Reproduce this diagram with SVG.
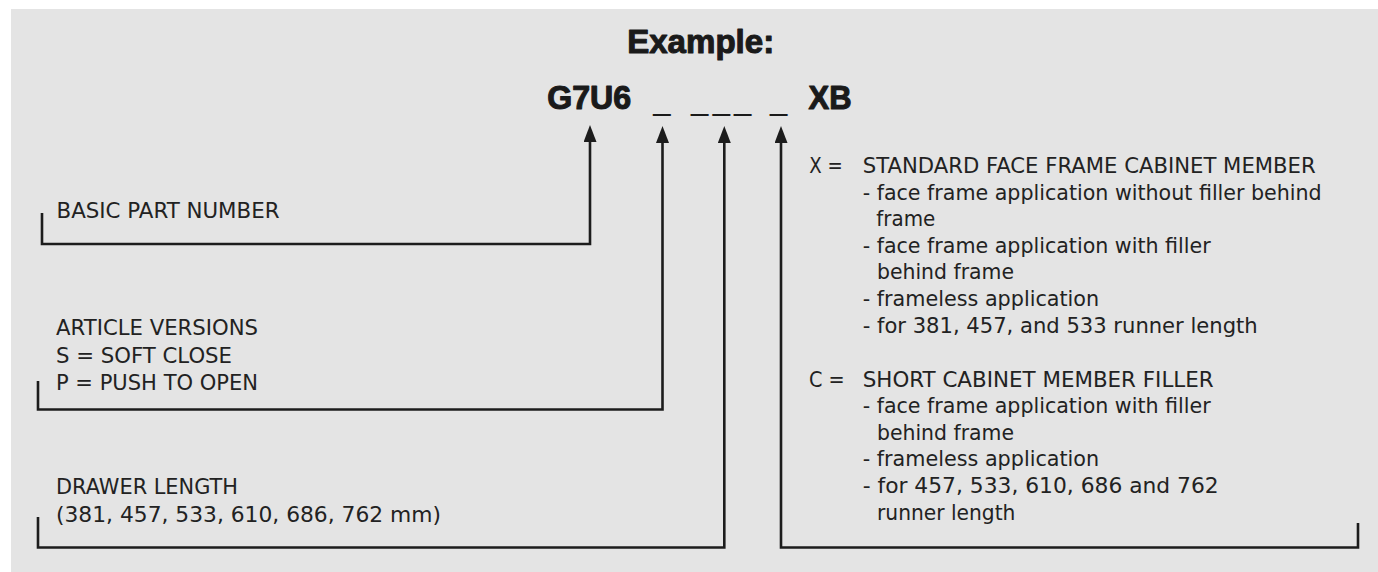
<svg xmlns="http://www.w3.org/2000/svg" width="1378" height="572" viewBox="0 0 1378 572">
<style>
.bg{fill:#e4e4e4}
.t{font-family:"DejaVu Sans","Liberation Sans",sans-serif;font-size:22px;fill:#222}
.h{font-family:"Liberation Sans",Arial,sans-serif;font-weight:bold;fill:#1a1a1a;stroke:#1a1a1a;stroke-width:1.1;stroke-linejoin:round}
.u{font-family:"Liberation Sans",Arial,sans-serif;font-size:31px;fill:#1a1a1a}
.c{fill:none;stroke:#1c1c1c;stroke-width:2.6;stroke-linejoin:miter}
</style>
<defs>
<marker id="ah" viewBox="0 0 17 13" markerWidth="17" markerHeight="13" refX="0" refY="6.5" orient="auto" markerUnits="userSpaceOnUse">
<path d="M0,0 L17,6.5 L0,13 z" fill="#1c1c1c"/>
</marker>
</defs>
<rect class="bg" x="11" y="9" width="1367" height="563"/>
<g id="title">
<text class="h" x="627.2" y="52.5" font-size="34" textLength="147" lengthAdjust="spacingAndGlyphs">Example:</text>
</g>
<g id="code">
<text class="h" x="547.2" y="109.3" font-size="32.5" textLength="84" lengthAdjust="spacingAndGlyphs">G7U6</text>
<text class="u"><tspan x="653.3" y="110">_</tspan><tspan x="691" y="110">_</tspan><tspan x="712.7" y="110">_</tspan><tspan x="734" y="110">_</tspan><tspan x="770" y="110">_</tspan></text>
<text class="h" x="808.5" y="109.3" font-size="32.5" textLength="43" lengthAdjust="spacingAndGlyphs">XB</text>
</g>
<g id="connectors">
<path class="c" d="M42,213 V244 H590 V142" marker-end="url(#ah)"/>
<path class="c" d="M38,381 V409.5 H662.5 V143" marker-end="url(#ah)"/>
<path class="c" d="M38,517 V547.5 H724.3 V143" marker-end="url(#ah)"/>
<path class="c" d="M1358,523 V547.5 H781 V143" marker-end="url(#ah)"/>
</g>
<g id="label-basic">
<text class="t" x="56.5" y="218.3" textLength="223" lengthAdjust="spacingAndGlyphs">BASIC PART NUMBER</text>
</g>
<g id="label-article">
<text class="t" x="56" y="335" textLength="202" lengthAdjust="spacingAndGlyphs">ARTICLE VERSIONS</text>
<text class="t" x="56" y="362.7" textLength="176" lengthAdjust="spacingAndGlyphs">S = SOFT CLOSE</text>
<text class="t" x="56" y="390" textLength="202" lengthAdjust="spacingAndGlyphs">P = PUSH TO OPEN</text>
</g>
<g id="label-drawer">
<text class="t" x="56" y="494" textLength="182" lengthAdjust="spacingAndGlyphs">DRAWER LENGTH</text>
<text class="t" x="56" y="521.5" textLength="385" lengthAdjust="spacingAndGlyphs">(381, 457, 533, 610, 686, 762 mm)</text>
</g>
<g id="label-options">
<text class="t" x="809.3" y="173.3" textLength="33.4" lengthAdjust="spacingAndGlyphs">X =</text>
<text class="t" x="862.7" y="173.3" textLength="453" lengthAdjust="spacingAndGlyphs">STANDARD FACE FRAME CABINET MEMBER</text>
<text class="t" x="862.7" y="199.6" textLength="459" lengthAdjust="spacingAndGlyphs">- face frame application without filler behind</text>
<text class="t" x="876.3" y="226" textLength="59" lengthAdjust="spacingAndGlyphs">frame</text>
<text class="t" x="862.7" y="252.6" textLength="348" lengthAdjust="spacingAndGlyphs">- face frame application with filler</text>
<text class="t" x="877" y="279" textLength="137" lengthAdjust="spacingAndGlyphs">behind frame</text>
<text class="t" x="862.7" y="305.6" textLength="236.5" lengthAdjust="spacingAndGlyphs">- frameless application</text>
<text class="t" x="862.7" y="333" textLength="395" lengthAdjust="spacingAndGlyphs">- for 381, 457, and 533 runner length</text>
<text class="t" x="809" y="386.8" textLength="35.7" lengthAdjust="spacingAndGlyphs">C =</text>
<text class="t" x="862.7" y="386.8" textLength="351" lengthAdjust="spacingAndGlyphs">SHORT CABINET MEMBER FILLER</text>
<text class="t" x="862.7" y="413.3" textLength="348" lengthAdjust="spacingAndGlyphs">- face frame application with filler</text>
<text class="t" x="877" y="439.5" textLength="137" lengthAdjust="spacingAndGlyphs">behind frame</text>
<text class="t" x="862.7" y="466" textLength="236.5" lengthAdjust="spacingAndGlyphs">- frameless application</text>
<text class="t" x="862.7" y="493.3" textLength="356" lengthAdjust="spacingAndGlyphs">- for 457, 533, 610, 686 and 762</text>
<text class="t" x="877" y="519.5" textLength="138.4" lengthAdjust="spacingAndGlyphs">runner length</text>
</g>
</svg>
